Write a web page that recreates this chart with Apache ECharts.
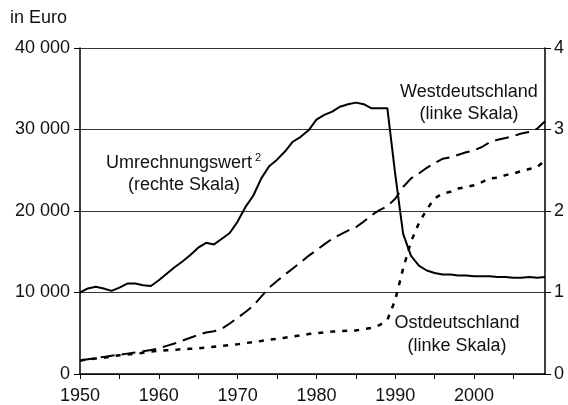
<!DOCTYPE html>
<html>
<head>
<meta charset="utf-8">
<script src="https://cdn.jsdelivr.net/npm/echarts@6/dist/echarts.min.js"></script>
<style>
  html, body { margin: 0; padding: 0; background: #fff; }
  #chart { width: 568px; height: 405px; }
</style>
</head>
<body>
<div id="chart"></div>
<script>
// Jahre 1950 - 2009
const years = [1950, 1951, 1952, 1953, 1954, 1955, 1956, 1957, 1958, 1959,
  1960, 1961, 1962, 1963, 1964, 1965, 1966, 1967, 1968, 1969,
  1970, 1971, 1972, 1973, 1974, 1975, 1976, 1977, 1978, 1979,
  1980, 1981, 1982, 1983, 1984, 1985, 1986, 1987, 1988, 1989,
  1990, 1991, 1992, 1993, 1994, 1995, 1996, 1997, 1998, 1999,
  2000, 2001, 2002, 2003, 2004, 2005, 2006, 2007, 2008, 2009]

// Westdeutschland (linke Skala), Euro
const west = [1650, 1800, 1950, 2100, 2250, 2350, 2500, 2650, 2800, 2950,
  3150, 3450, 3750, 4100, 4450, 4800, 5100, 5250, 5550, 6200,
  6900, 7600, 8400, 9500, 10600, 11400, 12200, 12950, 13700, 14500,
  15200, 15900, 16600, 17100, 17600, 18000, 18700, 19500, 20100, 20600,
  21500, 22950, 24000, 24600, 25300, 25900, 26400, 26600, 26900, 27200,
  27450, 27850, 28450, 28750, 28950, 29200, 29500, 29700, 30100, 31000]

// Ostdeutschland (linke Skala), Euro
const ost = [1650, 1800, 1900, 2000, 2150, 2300, 2400, 2500, 2600, 2750,
  2850, 2900, 2950, 3050, 3100, 3150, 3250, 3350, 3450, 3550,
  3650, 3800, 3900, 4050, 4200, 4300, 4450, 4600, 4750, 4900,
  5000, 5100, 5200, 5250, 5300, 5350, 5500, 5650, 6000, 6650,
  9100, 12950, 16250, 18500, 20200, 21550, 22150, 22350, 22750, 22950,
  23150, 23550, 24000, 24100, 24400, 24600, 24900, 25150, 25400, 26200]

// Umrechnungswert (rechte Skala)
const umrechnung = [1.00, 1.05, 1.07, 1.05, 1.02, 1.06, 1.11, 1.11, 1.09, 1.08,
  1.15, 1.23, 1.31, 1.38, 1.46, 1.55, 1.61, 1.59, 1.66, 1.73,
  1.87, 2.05, 2.19, 2.40, 2.55, 2.63, 2.73, 2.85, 2.91, 2.99,
  3.12, 3.18, 3.22, 3.28, 3.31, 3.33, 3.31, 3.26, 3.26, 3.26,
  2.45, 1.72, 1.45, 1.33, 1.27, 1.24, 1.22, 1.22, 1.21, 1.21,
  1.20, 1.20, 1.20, 1.19, 1.19, 1.18, 1.18, 1.19, 1.18, 1.19]

const leftTicks = [0, 10000, 20000, 30000, 40000]
const rightTicks = [0, 1, 2, 3, 4]

function pairs(vals) {
  return years.map((y, i) => [y, vals[i]])
}

const font = 'Liberation Sans, Arial, Helvetica, sans-serif'
const myChart = echarts.init(document.getElementById('chart'))

let option = {
  animation: false,
  backgroundColor: '#fff',
  textStyle: { fontFamily: font },
  grid: { left: 80, right: 23, top: 48, bottom: 29 },
  xAxis: {
    type: 'value',
    min: 1950,
    max: 2009,
    interval: 5,
    axisLine: { lineStyle: { color: '#000', width: 1.5 } },
    axisTick: { show: true, length: 5, lineStyle: { color: '#000' } },
    axisLabel: {
      color: '#111', fontSize: 18, fontFamily: font, margin: 13,
      showMaxLabel: false,
      formatter: v => (v % 10 === 0 ? String(v) : '')
    },
    splitLine: { show: false }
  },
  yAxis: [
    {
      type: 'value',
      min: leftTicks[0],
      max: leftTicks[leftTicks.length - 1],
      interval: 10000,
      axisLine: { show: true, lineStyle: { color: '#000', width: 1.5 } },
      axisTick: { show: true, length: 6, lineStyle: { color: '#000' } },
      axisLabel: {
        color: '#111', fontSize: 18, fontFamily: font, margin: 10,
        formatter: v => String(v).replace(/\B(?=(\d{3})+(?!\d))/g, ' ')
      },
      splitLine: { show: true, lineStyle: { color: '#333', width: 1 } }
    },
    {
      type: 'value',
      min: rightTicks[0],
      max: rightTicks[rightTicks.length - 1],
      interval: 1,
      position: 'right',
      axisLine: { show: true, lineStyle: { color: '#000', width: 1.5 } },
      axisTick: { show: true, length: 6, lineStyle: { color: '#000' } },
      axisLabel: { color: '#111', fontSize: 18, fontFamily: font, margin: 9 },
      splitLine: { show: false }
    }
  ],
  series: [
    {
      name: 'Westdeutschland',
      type: 'line',
      yAxisIndex: 0,
      data: pairs(west),
      showSymbol: false,
      lineStyle: { color: '#000', width: 2, type: [14, 7] }
    },
    {
      name: 'Ostdeutschland',
      type: 'line',
      yAxisIndex: 0,
      data: pairs(ost),
      showSymbol: false,
      lineStyle: { color: '#000', width: 2.5, type: [5, 7] }
    },
    {
      name: 'Umrechnungswert',
      type: 'line',
      yAxisIndex: 1,
      data: pairs(umrechnung),
      showSymbol: false,
      lineStyle: { color: '#000', width: 2 }
    }
  ],
  graphic: [
    { type: 'text', left: 10, top: 9, style: { text: 'in Euro', font: '18px ' + font, fill: '#111' } },
    { type: 'text', x: 179, y: 163, style: { text: 'Umrechnungswert', font: '18px ' + font, fill: '#111', textAlign: 'center', textVerticalAlign: 'middle' } },
    { type: 'text', x: 258, y: 158, style: { text: '2', font: '11px ' + font, fill: '#111', textAlign: 'center', textVerticalAlign: 'middle' } },
    { type: 'text', x: 184, y: 185, style: { text: '(rechte Skala)', font: '18px ' + font, fill: '#111', textAlign: 'center', textVerticalAlign: 'middle' } },
    { type: 'text', x: 469, y: 92, style: { text: 'Westdeutschland', font: '18px ' + font, fill: '#111', textAlign: 'center', textVerticalAlign: 'middle' } },
    { type: 'text', x: 469, y: 114, style: { text: '(linke Skala)', font: '18px ' + font, fill: '#111', textAlign: 'center', textVerticalAlign: 'middle' } },
    { type: 'text', x: 457, y: 323, style: { text: 'Ostdeutschland', font: '18px ' + font, fill: '#111', textAlign: 'center', textVerticalAlign: 'middle' } },
    { type: 'text', x: 457, y: 346, style: { text: '(linke Skala)', font: '18px ' + font, fill: '#111', textAlign: 'center', textVerticalAlign: 'middle' } }
  ]
}

option && myChart.setOption(option)
</script>
</body>
</html>
